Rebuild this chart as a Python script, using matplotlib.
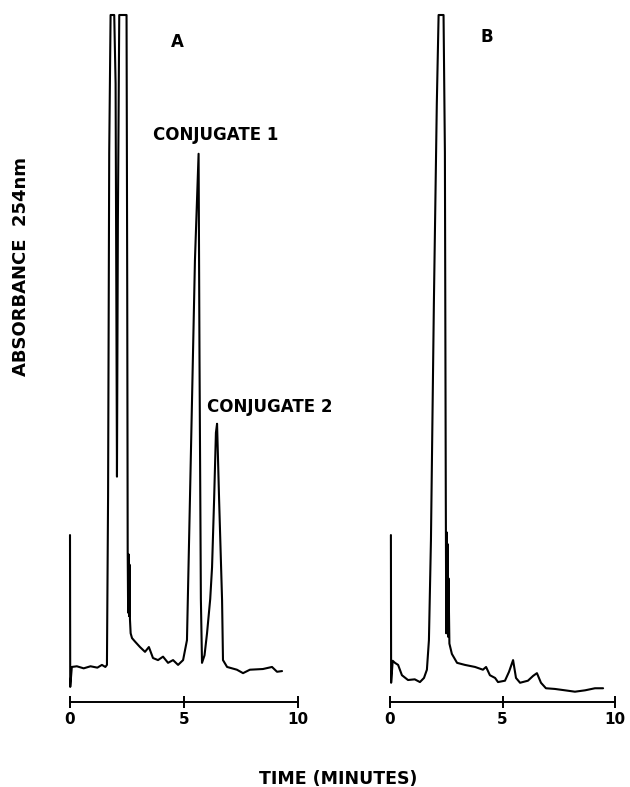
import numpy as np
import matplotlib
matplotlib.use("Agg")
import matplotlib.pyplot as plt

# Chromatogram A: retention time (min) and detector response (relative absorbance)
time_a = [0.00, 0.01, 0.08, 0.30, 0.60, 0.90, 1.20, 1.40, 1.55, 1.62, 1.67, 1.72,
          1.78, 1.86, 1.94, 2.00, 2.06, 2.10, 2.16, 2.24, 2.34, 2.44, 2.48, 2.51,
          2.53, 2.55, 2.57, 2.59, 2.61, 2.63, 2.66, 2.72, 2.85, 3.07, 3.29, 3.46,
          3.64, 3.86, 4.08, 4.30, 4.52, 4.74, 4.96, 5.13, 5.26, 5.48, 5.64, 5.68,
          5.74, 5.79, 5.90, 6.01, 6.15, 6.23, 6.32, 6.40, 6.45, 6.54, 6.67, 6.71,
          6.89, 7.32, 7.59, 7.89, 8.46, 8.86, 9.08, 9.30]
abs_a = [0.243, 0.022, 0.051, 0.052, 0.049, 0.052, 0.050, 0.054, 0.051, 0.054, 0.300, 0.800,
         1.250, 1.450, 1.300, 0.900, 0.328, 0.700, 1.250, 1.450, 1.400, 1.200, 1.150, 0.600,
         0.221, 0.130, 0.215, 0.125, 0.200, 0.120, 0.100, 0.093, 0.088, 0.080, 0.073, 0.080,
         0.064, 0.061, 0.066, 0.057, 0.061, 0.054, 0.061, 0.090, 0.294, 0.643, 0.798, 0.500,
         0.150, 0.057, 0.068, 0.100, 0.150, 0.196, 0.294, 0.392, 0.405, 0.294, 0.148, 0.061,
         0.051, 0.047, 0.042, 0.047, 0.048, 0.051, 0.044, 0.045]

# Chromatogram B
time_b = [0.04, 0.05, 0.12, 0.22, 0.36, 0.53, 0.80, 1.10, 1.33, 1.51, 1.64, 1.73,
          1.82, 1.95, 2.08, 2.16, 2.27, 2.38, 2.44, 2.48, 2.50, 2.52, 2.54, 2.56,
          2.58, 2.60, 2.64, 2.75, 2.98, 3.33, 3.78, 4.13, 4.27, 4.44, 4.67, 4.80,
          5.11, 5.29, 5.47, 5.60, 5.78, 6.13, 6.36, 6.53, 6.71, 6.93, 7.33, 7.78,
          8.22, 8.67, 9.11, 9.47]
abs_b = [0.243, 0.028, 0.060, 0.057, 0.054, 0.039, 0.032, 0.033, 0.029, 0.035, 0.047, 0.090,
         0.236, 0.580, 0.870, 1.250, 1.400, 1.250, 0.800, 0.294, 0.100, 0.247, 0.110, 0.230,
         0.095, 0.180, 0.085, 0.070, 0.057, 0.054, 0.051, 0.047, 0.051, 0.039, 0.035, 0.029,
         0.031, 0.044, 0.061, 0.035, 0.028, 0.031, 0.038, 0.042, 0.028, 0.020, 0.019, 0.017,
         0.015, 0.017, 0.020, 0.020]

time_ticks = [0, 5, 10]
full_scale = 1.0  # recorder pen limit: larger signals run flat along the top

plt.rcParams['font.family'] = ['DejaVu Sans']

fig = plt.figure(figsize=(6.3, 7.87), dpi=100)
ax_a = fig.add_axes([70 / 630, 85 / 787, 228 / 630, 687 / 787])
ax_b = fig.add_axes([390 / 630, 85 / 787, 225 / 630, 687 / 787])


def draw_trace(ax, t, a):
    y = np.minimum(np.asarray(a), full_scale)
    ax.plot(t, y, color='black', lw=1.5, solid_joinstyle='round',
            solid_capstyle='round', clip_on=False)
    ax.set_xlim(0, 10)
    ax.set_ylim(0, full_scale)
    for side in ('left', 'right', 'top'):
        ax.spines[side].set_visible(False)
    ax.spines['bottom'].set_linewidth(1.4)
    ax.set_yticks([])
    ax.set_xticks(time_ticks)
    ax.set_xticklabels([str(v) for v in time_ticks], fontsize=11,
                       fontweight='bold')
    ax.tick_params(axis='x', direction='inout', length=9, width=1.4, pad=3,
                   colors='black')
    ax.patch.set_visible(False)


draw_trace(ax_a, time_a, abs_a)
draw_trace(ax_b, time_b, abs_b)

label_kw = dict(fontsize=12, fontweight='bold', va='center')
ax_a.text(4.69, 0.961, 'A', ha='center', **label_kw)
ax_b.text(4.31, 0.968, 'B', ha='center', **label_kw)
ax_a.text(3.64, 0.825, 'CONJUGATE 1', ha='left', **label_kw)
ax_a.text(6.01, 0.429, 'CONJUGATE 2', ha='left', **label_kw)

fig.text(21 / 630, 1 - 266 / 787, 'ABSORBANCE  254nm', rotation=90,
         fontsize=13, fontweight='bold', ha='center', va='center')
fig.text(338 / 630, 1 - 779 / 787, 'TIME (MINUTES)', fontsize=12.5,
         fontweight='bold', ha='center', va='center')

fig.savefig('out.png', dpi=100, facecolor='white')
